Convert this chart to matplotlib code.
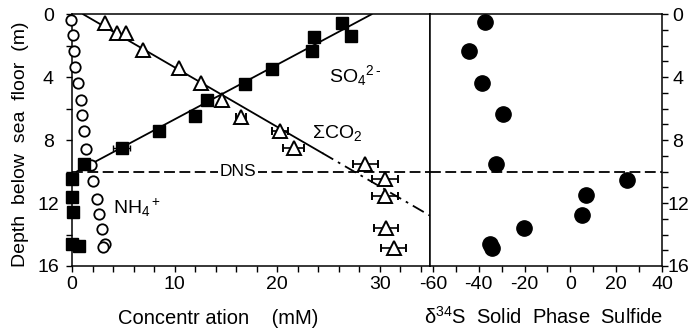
import matplotlib
matplotlib.use('Agg')
import matplotlib.pyplot as plt
from matplotlib.ticker import MultipleLocator

plt.rcParams['font.family'] = ['Liberation Sans', 'DejaVu Sans']
plt.rcParams['mathtext.fontset'] = 'custom'
plt.rcParams['mathtext.rm'] = 'Liberation Sans'
plt.rcParams['mathtext.it'] = 'Liberation Sans:italic'
plt.rcParams['axes.unicode_minus'] = False

# ---------------- data ----------------
# NH4+ (open circles)
nh4_conc = [-0.1, 0.13, 0.2, 0.3, 0.6, 0.85, 1.0, 1.17, 1.4, 1.9, 2.0, 2.4, 2.66, 2.9, 3.2, 3.0]
nh4_depth = [0.36, 1.32, 2.34, 3.33, 4.36, 5.46, 6.4, 7.43, 8.54, 9.6, 10.6, 11.72, 12.68, 13.63, 14.63, 14.8]

# SO4 2- (filled squares)
so4_conc = [26.3, 27.2, 23.6, 23.4, 19.5, 16.9, 13.2, 12.0, 8.5, 4.84, 1.17, 0.0, 0.0, 0.07, 0.0, 0.7]
so4_depth = [0.57, 1.38, 1.46, 2.34, 3.48, 4.4, 5.42, 6.47, 7.45, 8.47, 9.54, 10.5, 11.6, 12.57, 14.59, 14.7]
so4_err = [0, 0, 0, 0, 0, 0, 0, 0, 0, 0.8, 0, 0, 0, 0, 0, 0]

# Sum CO2 (open triangles)
co2_conc = [3.2, 4.4, 5.25, 6.9, 10.4, 12.6, 14.6, 16.5, 20.3, 21.6, 28.6, 30.5, 30.5, 30.6, 31.35]
co2_depth = [0.57, 1.21, 1.21, 2.25, 3.42, 4.36, 5.46, 6.56, 7.4, 8.52, 9.54, 10.45, 11.57, 13.6, 14.84]
co2_err = [0, 0, 0, 0, 0, 0, 0, 0.5, 0.8, 1.0, 1.2, 1.3, 1.3, 1.2, 1.2]

# fitted lines
so4_fit_conc = [0.45, 29.2]
so4_fit_depth = [10.0, 0.0]
co2_fit_solid_conc = [1.1, 24.4]
co2_fit_solid_depth = [0.0, 8.82]
co2_fit_dash_conc = [24.4, 34.9]
co2_fit_dash_depth = [8.82, 12.8]

dns_depth = 10.0

# delta34S solid phase sulfide (filled circles)
d34s = [-37.4, -44.1, -38.4, -29.6, -32.3, 24.9, 6.6, 5.2, -20.1, -35.0, -34.2]
d34s_depth = [0.5, 2.34, 4.36, 6.33, 9.53, 10.55, 11.47, 12.74, 13.57, 14.6, 14.85]

# ---------------- figure ----------------
W, H = 693, 329
fig = plt.figure(figsize=(W / 100, H / 100), dpi=100)

x0, x1, x2 = 72, 430, 662
ytop, ybot = 14.3, 266
axL = fig.add_axes([x0 / W, 1 - ybot / H, (x1 - x0) / W, (ybot - ytop) / H])
axR = fig.add_axes([x1 / W, 1 - ybot / H, (x2 - x1) / W, (ybot - ytop) / H])

lw_sp = 1.1
for ax in (axL, axR):
    for s in ax.spines.values():
        s.set_linewidth(lw_sp)
    ax.set_ylim(16, 0)
    ax.tick_params(which='both', direction='out', length=4.5, width=1.0,
                   labelsize=14, pad=3)

# left panel
axL.set_xlim(0, 34.9)
axL.xaxis.set_major_locator(MultipleLocator(10))
axL.xaxis.set_minor_locator(MultipleLocator(2))
axL.yaxis.set_major_locator(MultipleLocator(4))
axL.yaxis.set_minor_locator(MultipleLocator(2))
axL.tick_params(axis='y', which='both', left=True, right=False, labelleft=True)
axL.tick_params(axis='y', which='major', pad=12.5)

axL.plot(so4_fit_conc, so4_fit_depth, color='black', lw=1.3, zorder=2)
axL.plot(co2_fit_solid_conc, co2_fit_solid_depth, color='black', lw=1.3, zorder=2)
axL.plot(co2_fit_dash_conc, co2_fit_dash_depth, color='black', lw=1.3,
         dashes=(7, 3, 1.5, 3), zorder=2)

axL.plot(nh4_conc, nh4_depth, 'o', ms=7.5, mfc='white', mec='black', mew=1.3,
         clip_on=False, zorder=4)
axL.errorbar(so4_conc, so4_depth, xerr=so4_err, fmt='s', ms=9, mfc='black',
             mec='black', ecolor='black', elinewidth=1.0, capsize=2.5,
             clip_on=False, zorder=4)
axL.errorbar(co2_conc, co2_depth, xerr=co2_err, fmt='^', ms=9.5, mfc='white',
             mec='black', mew=1.4, ecolor='black', elinewidth=1.2, capsize=3,
             clip_on=False, zorder=5)

axL.axhline(dns_depth, color='black', lw=1.3, dashes=(6, 2.5), zorder=1)
axL.text(16.2, dns_depth, 'DNS', ha='center', va='center', fontsize=12.5,
         bbox=dict(fc='white', ec='none', pad=1.0), zorder=3)

axL.text(25.1, 3.87, 'SO$_4$$^{2\\,\u2010}$', fontsize=14, va='center', ha='left')
axL.text(23.4, 7.56, '\u03a3CO$_2$', fontsize=14, va='center', ha='left')
axL.text(4.0, 12.3, 'NH$_4$$^+$', fontsize=14, va='center', ha='left')

# right panel
axR.set_xlim(-61.3, 40)
axR.xaxis.set_major_locator(MultipleLocator(20))
axR.xaxis.set_minor_locator(MultipleLocator(10))
axR.yaxis.set_major_locator(MultipleLocator(4))
axR.yaxis.set_minor_locator(MultipleLocator(1))
axR.tick_params(axis='y', which='both', left=False, right=True,
                labelleft=False, labelright=True)
axR.tick_params(axis='y', which='major', pad=7)

axR.plot(d34s, d34s_depth, 'o', ms=11, color='black', clip_on=False, zorder=4)
axR.axhline(dns_depth, color='black', lw=1.3, dashes=(6, 2.5), zorder=1)

# center-align the y tick labels as in the reference
for lbl in axL.get_yticklabels():
    lbl.set_horizontalalignment('center')
for tick in axR.yaxis.get_major_ticks():
    tick.label2.set_horizontalalignment('center')

# axis labels
fig.text(21 / W, 1 - 144 / H, 'Depth  below  sea  floor  (m)', rotation=90,
         ha='center', va='center', fontsize=14)
fig.text(218 / W, 1 - 324 / H, 'Concentr ation    (mM)', ha='center',
         va='baseline', fontsize=14.5)
fig.text(543.5 / W, 1 - 324 / H, '\u03b4$^{34}$S  Solid  Phase  Sulfide',
         ha='center', va='baseline', fontsize=14.5)

fig.savefig('out.png', dpi=100)
